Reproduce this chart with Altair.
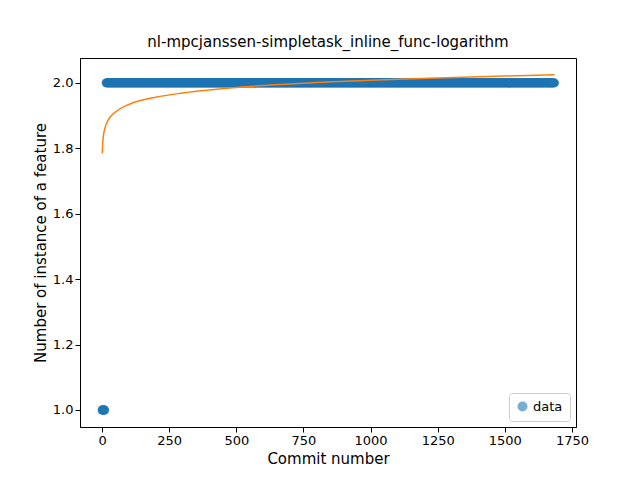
import altair as alt
import pandas as pd

# observed feature counts per commit
ones_x = list(range(0, 11))
twos_x = list(range(15, 1686))

# logarithmic fit
fit_x = [1, 2, 3, 5, 10, 25, 50, 100, 200, 300, 500, 750, 1000, 1250, 1500, 1685]
fit_y = [1.785, 1.807, 1.820, 1.837, 1.859, 1.889, 1.911, 1.934, 1.956, 1.969,
         1.986, 1.999, 2.008, 2.015, 2.021, 2.025]

pts = pd.DataFrame({
    "x": ones_x + twos_x,
    "y": [1.0] * len(ones_x) + [2.0] * len(twos_x),
    "series": "data",
})
fit = pd.DataFrame({"x": fit_x, "y": fit_y})

xs = alt.Scale(domain=[-82, 1765], nice=False, zero=False)
ys = alt.Scale(domain=[0.948, 2.076], nice=False, zero=False)

ax_x = alt.Axis(title="Commit number", values=[0, 250, 500, 750, 1000, 1250, 1500, 1750],
                format="d", grid=False)
ax_y = alt.Axis(title="Number of instance of a feature", values=[1.0, 1.2, 1.4, 1.6, 1.8, 2.0],
                format=".1f", grid=False)

scatter = alt.Chart(pts).mark_circle(size=80, opacity=0.6).encode(
    x=alt.X("x:Q", scale=xs, axis=ax_x),
    y=alt.Y("y:Q", scale=ys, axis=ax_y),
    color=alt.Color("series:N", scale=alt.Scale(range=["#1f77b4"]),
                    legend=alt.Legend(title=None, orient="bottom-right", symbolType="circle",
                                      strokeColor="#cccccc", padding=7, cornerRadius=3,
                                      offset=6, labelFontSize=13, symbolOpacity=0.6)),
)

line = alt.Chart(fit).mark_line(color="#ff7f0e", strokeWidth=1.5, interpolate="monotone").encode(
    x=alt.X("x:Q", scale=xs),
    y=alt.Y("y:Q", scale=ys),
)

chart = (scatter + line).properties(
    width=496, height=369,
    title="nl-mpcjanssen-simpletask_inline_func-logarithm",
    autosize=alt.AutoSizeParams(type="none"),
    padding={"left": 72, "top": 50, "right": 56, "bottom": 45},
).configure(font="DejaVu Sans").configure_view(
    stroke="black", strokeWidth=1
).configure_axis(
    domainColor="black", tickColor="black", labelColor="black", titleColor="black",
    labelFontSize=13, titleFontSize=15, titleFontWeight="normal", tickSize=5,
).configure_title(fontSize=15, fontWeight="normal", offset=8)

chart.save("out.html", embed_options={"renderer": "svg", "actions": False})
